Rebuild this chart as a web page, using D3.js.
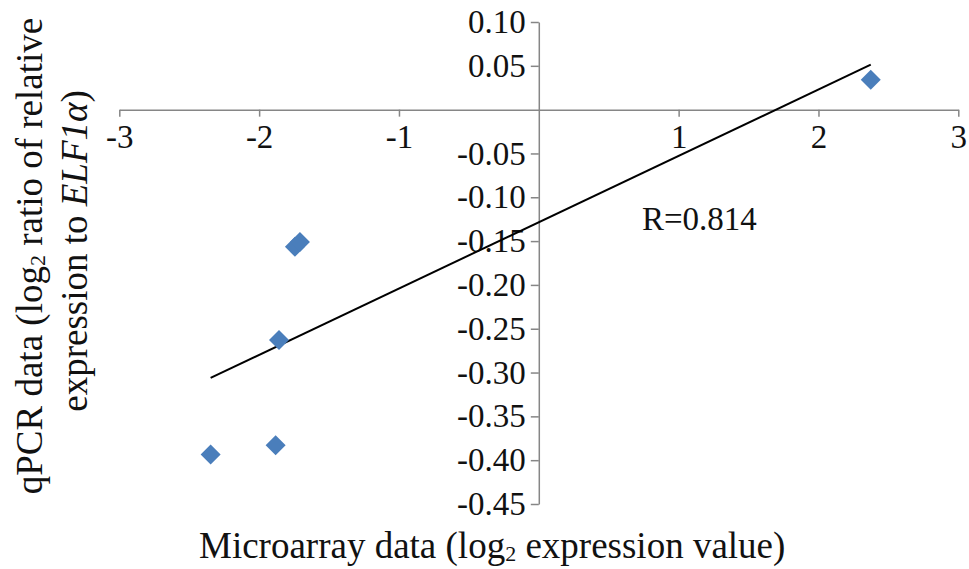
<!DOCTYPE html>
<html><head><meta charset="utf-8">
<script src="https://cdn.jsdelivr.net/npm/d3@7"></script>
<style>
html,body{margin:0;padding:0;background:#fff;}
svg{display:block;}
svg text{font-family:"Liberation Serif","Times New Roman",serif !important;}
</style></head>
<body>
<svg id="chart" width="969" height="569"></svg>
<script>
// Data
const microarray = [2.374, -1.858, -2.347, -1.882, -1.744, -1.708];
const qpcr       = [0.034, -0.263, -0.3935, -0.383, -0.1565, -0.151];
const xTicks = [-3, -2, -1, 1, 2, 3];
const xTickLabels = ["-3", "-2", "-1", "1", "2", "3"];
const yTicks = [0.10, 0.05, -0.05, -0.10, -0.15, -0.20, -0.25, -0.30, -0.35, -0.40, -0.45];
const yTickLabels = ["0.10", "0.05", "-0.05", "-0.10", "-0.15", "-0.20", "-0.25", "-0.30", "-0.35", "-0.40", "-0.45"];
const rLabel = "R=0.814";

const svg = d3.select("#chart");
const x = d3.scaleLinear().domain([-3, 3]).range([119.3, 958.3]);
const y = d3.scaleLinear().domain([0.10, -0.45]).range([22, 504]);
const axisColor = "#868686";
const tickFont = 33;
const titleFont = 37;

// X axis at y=0
const xAxis = d3.axisBottom(x).tickValues(xTicks).tickSize(7).tickSizeOuter(0)
  .tickFormat((d, i) => xTickLabels[i]).tickPadding(8);
const gx = svg.append("g").attr("transform", `translate(0,${y(0)})`).call(xAxis);
gx.select(".domain").attr("stroke", axisColor).attr("stroke-width", 1.5);
gx.selectAll(".tick line").attr("stroke", axisColor).attr("stroke-width", 1.5);
gx.selectAll(".tick text").attr("fill", "#111").style("font-size", tickFont + "px");

// Y axis at x=0
const yAxis = d3.axisLeft(y).tickValues(yTicks).tickSize(8).tickSizeOuter(0)
  .tickFormat((d, i) => yTickLabels[i]).tickPadding(5);
const gy = svg.append("g").attr("transform", `translate(${x(0)},0)`).call(yAxis);
gy.select(".domain").attr("stroke", axisColor).attr("stroke-width", 1.5);
gy.selectAll(".tick line").attr("stroke", axisColor).attr("stroke-width", 1.5);
gy.selectAll(".tick text").attr("fill", "#111").style("font-size", tickFont + "px");

// Linear regression trend line
const pts = microarray.map((v, i) => [v, qpcr[i]]);
const mx = d3.mean(microarray), my = d3.mean(qpcr);
const sxy = d3.sum(pts, p => (p[0] - mx) * (p[1] - my));
const sxx = d3.sum(pts, p => (p[0] - mx) ** 2);
const slope = sxy / sxx, intercept = my - slope * mx;
const [x0, x1] = d3.extent(microarray);
svg.append("line")
  .attr("x1", x(x0)).attr("y1", y(intercept + slope * x0))
  .attr("x2", x(x1)).attr("y2", y(intercept + slope * x1))
  .attr("stroke", "#000").attr("stroke-width", 2);

// Points (diamonds)
svg.append("g").selectAll("path").data(pts).join("path")
  .attr("d", d3.symbol(d3.symbolSquare, 200))
  .attr("transform", d => `translate(${x(d[0])},${y(d[1])}) rotate(45)`)
  .attr("fill", "#4a7ebb");

// R label
svg.append("text").attr("x", 642).attr("y", 230).style("font-size", tickFont + "px")
  .attr("fill", "#111").text(rLabel);

// X title
const xt = svg.append("text").attr("x", 199).attr("y", 558).style("font-size", titleFont + "px").attr("fill", "#111");
xt.append("tspan").text("Microarray data (log");
xt.append("tspan").style("font-size", "22px").attr("dy", 3).text("2");
xt.append("tspan").attr("dy", -3).text(" expression value)");

// Y title (two lines, rotated)
const yt1 = svg.append("text").attr("transform", "translate(42,256) rotate(-90)")
  .attr("text-anchor", "middle").style("font-size", titleFont + "px").attr("fill", "#111");
yt1.append("tspan").text("qPCR data (log");
yt1.append("tspan").style("font-size", "22px").attr("dy", 3).text("2");
yt1.append("tspan").attr("dy", -3).text(" ratio of relative");

const yt2 = svg.append("text").attr("transform", "translate(87,251) rotate(-90)")
  .attr("text-anchor", "middle").style("font-size", titleFont + "px").attr("fill", "#111");
yt2.append("tspan").text("expression to ");
yt2.append("tspan").style("font-style", "italic").text("ELF1α");
yt2.append("tspan").text(")");
</script>
</body></html>
